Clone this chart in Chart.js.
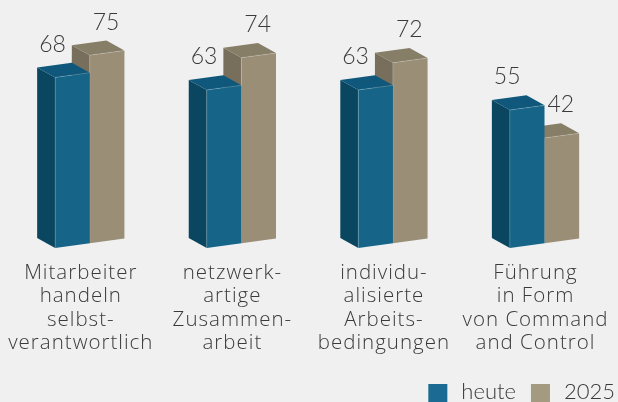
<!DOCTYPE html>
<html>
<head>
<meta charset="utf-8">
<script src="https://cdn.jsdelivr.net/npm/chart.js@4/dist/chart.umd.min.js"></script>
<style>
  html, body { margin: 0; padding: 0; background: #eff0ef; overflow: hidden; }
  #wrap { width: 630px; height: 402px; position: relative; }
</style>
</head>
<body>
<div id="wrap"><canvas id="chart"></canvas></div>
<script>
// Chart data
const categories = [
  ["Mitarbeiter", "handeln", "selbst-", "verantwortlich"],
  ["netzwerk-", "artige", "Zusammen-", "arbeit"],
  ["individu-", "alisierte", "Arbeits-", "bedingungen"],
  ["Führung", "in Form", "von Command", "and Control"],
];
const heute = [68, 63, 63, 55];
const year2025 = [75, 74, 72, 42];
const seriesNames = ["heute", "2025"];

// 3D look
const FONT = "Lato, 'Open Sans', sans-serif";
const CAT_FONT = "'Open Sans', Lato, sans-serif";
const TEXT = "#3a3a3a";
const FACES = [
  { front: "#166589", side: "#0b4660", top: "#0f587b", legend: "#1a6a94" },
  { front: "#9a8f76", side: "#776f5b", top: "#877e68", legend: "#a39a80" },
];
const DX = -18, DY = -10, SKEW = 0.135;

const bars3d = {
  id: "bars3d",
  beforeDraw(chart) {
    // wider tracking for the category labels
    chart.ctx.letterSpacing = "1px";
  },
  afterDatasetsDraw(chart) {
    const ctx = chart.ctx;
    const m0 = chart.getDatasetMeta(0);
    m0.data.forEach((b0, j) => {
      const gc = b0.x + b0.width / 2;
      const k = (xx) => -SKEW * (xx - gc);
      // back bar first, then front one
      [1, 0].forEach((d) => {
        const el = chart.getDatasetMeta(d).data[j];
        const f = FACES[d];
        const xl = el.x - el.width / 2, xr = el.x + el.width / 2;
        const tl = el.y + k(xl), tr = el.y + k(xr);
        const bl = el.base + k(xl), br = el.base + k(xr);
        const poly = (pts, c) => {
          ctx.beginPath();
          ctx.moveTo(pts[0][0], pts[0][1]);
          pts.slice(1).forEach((p) => ctx.lineTo(p[0], p[1]));
          ctx.closePath();
          ctx.fillStyle = c;
          ctx.fill();
        };
        ctx.save();
        poly([[xl, tl], [xl + DX, tl + DY], [xl + DX, bl + DY], [xl, bl]], f.side);
        poly([[xl, tl], [xr, tr], [xr + DX, tr + DY], [xl + DX, tl + DY]], f.top);
        poly([[xl, tl], [xr, tr], [xr, br], [xl, bl]], f.front);
        ctx.strokeStyle = "rgba(255,255,255,0.22)";
        ctx.lineWidth = 0.8;
        ctx.beginPath();
        ctx.moveTo(xl, bl); ctx.lineTo(xl, tl); ctx.lineTo(xr, tr);
        ctx.stroke();
        ctx.restore();
      });
      // value labels
      [0, 1].forEach((d) => {
        const el = chart.getDatasetMeta(d).data[j];
        const xl = el.x - el.width / 2;
        const v = chart.data.datasets[d].data[j];
        ctx.save();
        ctx.letterSpacing = "0px";
        ctx.font = "300 23px " + FONT;
        ctx.fillStyle = TEXT;
        ctx.textAlign = "center";
        ctx.textBaseline = "middle";
        ctx.fillText(String(v), el.x + (d === 0 ? -20 : -1), el.y + k(xl) - 33);
        ctx.restore();
      });
    });
  },
  afterDraw(chart) {
    // legend, right aligned at the bottom
    const ctx = chart.ctx;
    ctx.save();
    ctx.letterSpacing = "0px";
    ctx.font = "300 22px " + FONT;
    ctx.textBaseline = "alphabetic";
    let x = 615;
    for (let d = chart.data.datasets.length - 1; d >= 0; d--) {
      const label = chart.data.datasets[d].label;
      const w = ctx.measureText(label).width;
      x -= w;
      ctx.fillStyle = TEXT;
      ctx.fillText(label, x, 399);
      x -= 14 + 19;
      ctx.fillStyle = FACES[d].legend;
      ctx.fillRect(x, 384, 19, 18);
      x -= 15;
    }
    ctx.restore();
  },
};

const DATA = {
  labels: categories,
  datasets: [
    { label: seriesNames[0], data: heute, backgroundColor: "rgba(0,0,0,0)" },
    { label: seriesNames[1], data: year2025, backgroundColor: "rgba(0,0,0,0)" },
  ],
};

const CONFIG = {
  type: "bar",
  data: DATA,
  options: {
    responsive: true,
    maintainAspectRatio: false,
    animation: false,
    layout: { padding: { left: 14, right: 0, top: 0, bottom: 0 } },
    datasets: { bar: { categoryPercentage: 0.457, barPercentage: 1 } },
    plugins: {
      legend: { display: false },
      tooltip: { enabled: false },
    },
    scales: {
      x: {
        offset: true,
        border: { display: false },
        grid: { display: false, drawTicks: false },
        ticks: {
          color: TEXT,
          font: { family: CAT_FONT, size: 20.5, weight: "300", lineHeight: 1.14 },
          padding: 18,
          labelOffset: -9,
          maxRotation: 0,
          autoSkip: false,
        },
        afterFit(scale) {
          scale.height = 158.7;
        },
      },
      y: {
        display: false,
        min: 0,
        max: 97,
      },
    },
  },
  plugins: [bars3d],
};

new Chart(document.getElementById("chart"), CONFIG);
</script>
</body>
</html>
